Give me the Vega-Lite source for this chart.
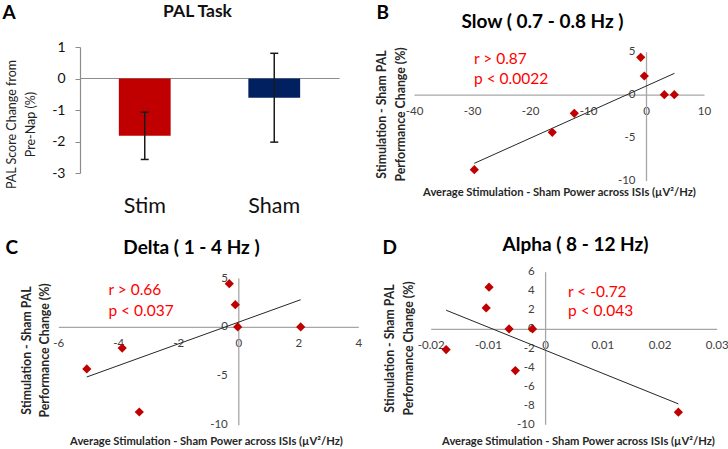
{
  "$schema": "https://vega.github.io/schema/vega-lite/v6.json",
  "width": 728,
  "height": 449,
  "autosize": "none",
  "padding": 0,
  "background": "white",
  "config": {"view": {"stroke": null}, "axis": {"grid": false}},
  "datasets": {
    "pal": [
      {"condition": "Stim", "mean": -1.82, "lo": -2.57, "hi": -1.07},
      {"condition": "Sham", "mean": -0.61, "lo": -2.02, "hi": 0.8}
    ],
    "slow": [
      {"x": -0.91, "y": 4.34}, {"x": -0.29, "y": 2.17}, {"x": 3.16, "y": 0}, {"x": 4.88, "y": 0},
      {"x": -12.36, "y": -2.18}, {"x": -16.16, "y": -4.39}, {"x": -29.6, "y": -8.74}
    ],
    "slowFit": [{"x": -29.6, "y": -8.0}, {"x": 4.91, "y": 2.48}],
    "delta": [
      {"x": -0.3, "y": 4.42}, {"x": -0.1, "y": 2.27}, {"x": -0.02, "y": 0}, {"x": 2.08, "y": 0},
      {"x": -3.87, "y": -2.16}, {"x": -5.05, "y": -4.3}, {"x": -3.3, "y": -8.7}
    ],
    "deltaFit": [{"x": -5.05, "y": -5.12}, {"x": 2.08, "y": 2.78}],
    "alpha": [
      {"x": -0.0098, "y": 4.38}, {"x": -0.0103, "y": 2.2}, {"x": -0.0063, "y": 0}, {"x": -0.0022, "y": 0},
      {"x": -0.0173, "y": -2.17}, {"x": -0.0052, "y": -4.37}, {"x": 0.0233, "y": -8.73}
    ],
    "alphaFit": [{"x": -0.0173, "y": 1.96}, {"x": 0.0233, "y": -7.86}]
  },
  "layer": [
    {
      "data": {"name": "pal"},
      "mark": {"type": "bar", "width": {"band": 0.4}},
      "encoding": {
        "x": {"field": "condition", "type": "nominal", "sort": ["Stim", "Sham"],
          "scale": {"type": "band", "domain": ["Stim", "Sham"], "range": [80, 339], "paddingInner": 0, "paddingOuter": 0},
          "axis": {"orient": "bottom", "offset": -371, "domain": true, "domainColor": "#8c8c8c", "domainWidth": 1.2,
            "ticks": false, "tickSize": 0, "labelPadding": 134, "labelBaseline": "alphabetic", "labelAngle": 0,
            "labelFont": "Lato", "labelFontSize": 21.5, "labelColor": "#111111",
            "title": "PAL Task", "titleX": 197, "titleY": -62, "titleAlign": "center", "titleBaseline": "alphabetic",
            "titleFont": "Lato", "titleFontSize": 17.5, "titleFontWeight": "bold", "titleColor": "#111111"}},
        "y": {"field": "mean", "type": "quantitative",
          "scale": {"domain": [-3, 1], "range": [173, 47], "nice": false, "zero": false},
          "axis": {"orient": "left", "offset": -80, "values": [-3, -2, -1, 0, 1], "labelExpr": "'' + datum.value",
            "domainColor": "#8c8c8c", "domainWidth": 1.2, "tickColor": "#8c8c8c", "tickSize": 5, "labelPadding": 10,
            "labelFont": "Lato", "labelFontSize": 14, "labelColor": "#111111", "labelBaseline": "middle",
            "title": ["PAL Score Change from", "\u2003\u2003\u2003\u2003Pre-Nap (%)"],
            "titleX": -69, "titleY": 124, "titleAngle": 270, "titleAlign": "center", "titleBaseline": "middle",
            "titleLineHeight": 19, "titleFont": "Lato", "titleFontSize": 12.5, "titleFontWeight": "normal", "titleColor": "#222222"}},
        "y2": {"datum": 0},
        "color": {"field": "condition", "type": "nominal",
          "scale": {"domain": ["Stim", "Sham"], "range": ["#c00000", "#002060"]}, "legend": null}
      }
    },
    {
      "data": {"name": "pal"},
      "mark": {"type": "rule", "color": "#1a1a1a", "strokeWidth": 1.5},
      "encoding": {
        "x": {"field": "condition", "type": "nominal",
          "scale": {"type": "band", "domain": ["Stim", "Sham"], "range": [80, 339], "paddingInner": 0, "paddingOuter": 0},
          "axis": null},
        "y": {"field": "lo", "type": "quantitative",
          "scale": {"domain": [-3, 1], "range": [173, 47], "nice": false, "zero": false},
          "axis": {"orient": "left", "offset": 0, "domain": false, "ticks": false, "labels": false,
            "title": "A", "titleX": 2, "titleY": 18, "titleAngle": 0, "titleAlign": "left", "titleBaseline": "alphabetic",
            "titleFont": "Lato", "titleFontSize": 19, "titleFontWeight": "bold", "titleColor": "#000000"}},
        "y2": {"field": "hi"}
      }
    },
    {
      "data": {"name": "pal"},
      "mark": {"type": "tick", "orient": "horizontal", "size": 8, "thickness": 1.5, "color": "#1a1a1a", "opacity": 1},
      "encoding": {
        "x": {"field": "condition", "type": "nominal",
          "scale": {"type": "band", "domain": ["Stim", "Sham"], "range": [80, 339], "paddingInner": 0, "paddingOuter": 0},
          "axis": null},
        "y": {"field": "lo", "type": "quantitative",
          "scale": {"domain": [-3, 1], "range": [173, 47], "nice": false, "zero": false}, "axis": null}
      }
    },
    {
      "data": {"name": "pal"},
      "mark": {"type": "tick", "orient": "horizontal", "size": 8, "thickness": 1.5, "color": "#1a1a1a", "opacity": 1},
      "encoding": {
        "x": {"field": "condition", "type": "nominal",
          "scale": {"type": "band", "domain": ["Stim", "Sham"], "range": [80, 339], "paddingInner": 0, "paddingOuter": 0},
          "axis": null},
        "y": {"field": "hi", "type": "quantitative",
          "scale": {"domain": [-3, 1], "range": [173, 47], "nice": false, "zero": false}, "axis": null}
      }
    },

    {
      "data": {"name": "slowFit"},
      "mark": {"type": "line", "color": "#262626", "strokeWidth": 1},
      "encoding": {
        "x": {"field": "x", "type": "quantitative",
          "scale": {"domain": [-40, 10], "range": [414, 704], "nice": false, "zero": false},
          "axis": {"orient": "top", "offset": 0, "domain": false, "ticks": false, "labels": false,
            "title": "Slow ( 0.7 - 0.8 Hz )", "titleX": 542, "titleY": 27, "titleAlign": "center", "titleBaseline": "alphabetic",
            "titleFont": "Lato", "titleFontSize": 19, "titleFontWeight": "bold", "titleColor": "#000000"}},
        "y": {"field": "y", "type": "quantitative",
          "scale": {"domain": [-10, 5], "range": [180.5, 51.7], "nice": false, "zero": false},
          "axis": {"orient": "left", "offset": 0, "domain": false, "ticks": false, "labels": false,
            "title": "B", "titleX": 376, "titleY": 18, "titleAngle": 0, "titleAlign": "left", "titleBaseline": "alphabetic",
            "titleFont": "Lato", "titleFontSize": 19, "titleFontWeight": "bold", "titleColor": "#000000"}}
      }
    },
    {
      "data": {"name": "slow"},
      "mark": {"type": "point", "shape": "diamond", "filled": true, "size": 85, "color": "#c00000", "opacity": 1},
      "encoding": {
        "x": {"field": "x", "type": "quantitative",
          "scale": {"domain": [-40, 10], "range": [414, 704], "nice": false, "zero": false},
          "axis": {"orient": "bottom", "offset": -354.37, "values": [-40, -30, -20, -10, 0, 10], "labelExpr": "'' + datum.value",
            "domainColor": "#a6a6a6", "domainWidth": 1.3, "ticks": false, "tickSize": 0, "labelPadding": 17,
            "labelBaseline": "middle", "labelFlush": false, "labelOverlap": false,
            "labelFont": "Lato", "labelFontSize": 11.5, "labelColor": "#404040",
            "title": "Average Stimulation - Sham Power across ISIs (µV²/Hz)", "titleX": 559, "titleY": 101,
            "titleAlign": "center", "titleBaseline": "alphabetic",
            "titleFont": "Lato", "titleFontSize": 11.2, "titleFontWeight": "bold", "titleColor": "#262626"}},
        "y": {"field": "y", "type": "quantitative",
          "scale": {"domain": [-10, 5], "range": [180.5, 51.7], "nice": false, "zero": false},
          "axis": {"orient": "left", "offset": -646, "values": [-10, -5, 0, 5], "labelExpr": "'' + datum.value",
            "domainColor": "#a6a6a6", "domainWidth": 1.3, "ticks": false, "tickSize": 0, "labelPadding": 11,
            "labelBaseline": "middle", "labelFlush": false, "labelOverlap": false,
            "labelFont": "Lato", "labelFontSize": 11.5, "labelColor": "#404040",
            "title": ["Stimulation - Sham PAL", "Performance Change (%)"], "titleX": -264.5, "titleY": 114,
            "titleAngle": 270, "titleAlign": "center", "titleBaseline": "middle", "titleLineHeight": 18.5,
            "titleFont": "Lato", "titleFontSize": 12.3, "titleFontWeight": "bold", "titleColor": "#262626"}}
      }
    },
    {
      "data": {"values": [{}]},
      "mark": {"type": "text", "align": "left", "baseline": "alphabetic", "font": "Lato", "fontSize": 15.5,
        "color": "#ff0000", "lineHeight": 20, "text": ["r > 0.87", "p < 0.0022"]},
      "encoding": {
        "x": {"datum": -29.66, "type": "quantitative",
          "scale": {"domain": [-40, 10], "range": [414, 704], "nice": false, "zero": false}, "axis": null},
        "y": {"datum": 3.53, "type": "quantitative",
          "scale": {"domain": [-10, 5], "range": [180.5, 51.7], "nice": false, "zero": false}, "axis": null}
      }
    },

    {
      "data": {"name": "deltaFit"},
      "mark": {"type": "line", "color": "#262626", "strokeWidth": 1},
      "encoding": {
        "x": {"field": "x", "type": "quantitative",
          "scale": {"domain": [-6, 4], "range": [58.3, 358.3], "nice": false, "zero": false},
          "axis": {"orient": "top", "offset": 0, "domain": false, "ticks": false, "labels": false,
            "title": "Delta ( 1 - 4 Hz )", "titleX": 191, "titleY": 253, "titleAlign": "center", "titleBaseline": "alphabetic",
            "titleFont": "Lato", "titleFontSize": 19, "titleFontWeight": "bold", "titleColor": "#000000"}},
        "y": {"field": "y", "type": "quantitative",
          "scale": {"domain": [-10, 5], "range": [424.7, 278], "nice": false, "zero": false},
          "axis": {"orient": "left", "offset": 0, "domain": false, "ticks": false, "labels": false,
            "title": "C", "titleX": 5, "titleY": 253, "titleAngle": 0, "titleAlign": "left", "titleBaseline": "alphabetic",
            "titleFont": "Lato", "titleFontSize": 19, "titleFontWeight": "bold", "titleColor": "#000000"}}
      }
    },
    {
      "data": {"name": "delta"},
      "mark": {"type": "point", "shape": "diamond", "filled": true, "size": 85, "color": "#c00000", "opacity": 1},
      "encoding": {
        "x": {"field": "x", "type": "quantitative",
          "scale": {"domain": [-6, 4], "range": [58.3, 358.3], "nice": false, "zero": false},
          "axis": {"orient": "bottom", "offset": -122.1, "values": [-6, -4, -2, 0, 2, 4], "labelExpr": "'' + datum.value",
            "domainColor": "#a6a6a6", "domainWidth": 1.3, "ticks": false, "tickSize": 0, "labelPadding": 17,
            "labelBaseline": "middle", "labelFlush": false, "labelOverlap": false,
            "labelFont": "Lato", "labelFontSize": 11.5, "labelColor": "#404040",
            "title": "Average Stimulation - Sham Power across ISIs (µV²/Hz)", "titleX": 206, "titleY": 117.1,
            "titleAlign": "center", "titleBaseline": "alphabetic",
            "titleFont": "Lato", "titleFontSize": 11.2, "titleFontWeight": "bold", "titleColor": "#262626"}},
        "y": {"field": "y", "type": "quantitative",
          "scale": {"domain": [-10, 5], "range": [424.7, 278], "nice": false, "zero": false},
          "axis": {"orient": "left", "offset": -238.3, "values": [-10, -5, 0, 5], "labelExpr": "'' + datum.value",
            "domainColor": "#a6a6a6", "domainWidth": 1.3, "ticks": false, "tickSize": 0, "labelPadding": 11,
            "labelBaseline": "middle", "labelFlush": false, "labelOverlap": false,
            "labelFont": "Lato", "labelFontSize": 11.5, "labelColor": "#404040",
            "title": ["Stimulation - Sham PAL", "Performance Change (%)"], "titleX": -212.3, "titleY": 350,
            "titleAngle": 270, "titleAlign": "center", "titleBaseline": "middle", "titleLineHeight": 18.5,
            "titleFont": "Lato", "titleFontSize": 12.3, "titleFontWeight": "bold", "titleColor": "#262626"}}
      }
    },
    {
      "data": {"values": [{}]},
      "mark": {"type": "text", "align": "left", "baseline": "alphabetic", "font": "Lato", "fontSize": 15.5,
        "color": "#ff0000", "lineHeight": 20.4, "text": ["r > 0.66", "p < 0.037"]},
      "encoding": {
        "x": {"datum": -4.33, "type": "quantitative",
          "scale": {"domain": [-6, 4], "range": [58.3, 358.3], "nice": false, "zero": false}, "axis": null},
        "y": {"datum": 3.23, "type": "quantitative",
          "scale": {"domain": [-10, 5], "range": [424.7, 278], "nice": false, "zero": false}, "axis": null}
      }
    },

    {
      "data": {"name": "alphaFit"},
      "mark": {"type": "line", "color": "#262626", "strokeWidth": 1},
      "encoding": {
        "x": {"field": "x", "type": "quantitative",
          "scale": {"domain": [-0.02, 0.03], "range": [430.7, 716.7], "nice": false, "zero": false},
          "axis": {"orient": "top", "offset": 0, "domain": false, "ticks": false, "labels": false,
            "title": "Alpha ( 8 - 12 Hz)", "titleX": 575, "titleY": 250, "titleAlign": "center", "titleBaseline": "alphabetic",
            "titleFont": "Lato", "titleFontSize": 19, "titleFontWeight": "bold", "titleColor": "#000000"}},
        "y": {"field": "y", "type": "quantitative",
          "scale": {"domain": [-10, 6], "range": [424.3, 271.7], "nice": false, "zero": false},
          "axis": {"orient": "left", "offset": 0, "domain": false, "ticks": false, "labels": false,
            "title": "D", "titleX": 382, "titleY": 253, "titleAngle": 0, "titleAlign": "left", "titleBaseline": "alphabetic",
            "titleFont": "Lato", "titleFontSize": 19, "titleFontWeight": "bold", "titleColor": "#000000"}}
      }
    },
    {
      "data": {"name": "alpha"},
      "mark": {"type": "point", "shape": "diamond", "filled": true, "size": 85, "color": "#c00000", "opacity": 1},
      "encoding": {
        "x": {"field": "x", "type": "quantitative",
          "scale": {"domain": [-0.02, 0.03], "range": [430.7, 716.7], "nice": false, "zero": false},
          "axis": {"orient": "bottom", "offset": -120.1, "values": [-0.02, -0.01, 0, 0.01, 0.02, 0.03], "labelExpr": "'' + datum.value",
            "domainColor": "#a6a6a6", "domainWidth": 1.3, "ticks": false, "tickSize": 0, "labelPadding": 17,
            "labelBaseline": "middle", "labelFlush": false, "labelOverlap": false,
            "labelFont": "Lato", "labelFontSize": 11.5, "labelColor": "#404040",
            "title": "Average Stimulation - Sham Power across ISIs (µV²/Hz)", "titleX": 578, "titleY": 115.1,
            "titleAlign": "center", "titleBaseline": "alphabetic",
            "titleFont": "Lato", "titleFontSize": 11.2, "titleFontWeight": "bold", "titleColor": "#262626"}},
        "y": {"field": "y", "type": "quantitative",
          "scale": {"domain": [-10, 6], "range": [424.3, 271.7], "nice": false, "zero": false},
          "axis": {"orient": "left", "offset": -545.1, "values": [-10, -8, -6, -4, -2, 0, 2, 4, 6], "labelExpr": "'' + datum.value",
            "domainColor": "#a6a6a6", "domainWidth": 1.3, "ticks": false, "tickSize": 0, "labelPadding": 11,
            "labelBaseline": "middle", "labelFlush": false, "labelOverlap": false,
            "labelFont": "Lato", "labelFontSize": 11.5, "labelColor": "#404040",
            "title": ["Stimulation - Sham PAL", "Performance Change (%)"], "titleX": -155.1, "titleY": 348,
            "titleAngle": 270, "titleAlign": "center", "titleBaseline": "middle", "titleLineHeight": 18.5,
            "titleFont": "Lato", "titleFontSize": 12.3, "titleFontWeight": "bold", "titleColor": "#262626"}}
      }
    },
    {
      "data": {"values": [{}]},
      "mark": {"type": "text", "align": "left", "baseline": "alphabetic", "font": "Lato", "fontSize": 15.5,
        "color": "#ff0000", "lineHeight": 19.3, "text": ["r < -0.72", "p < 0.043"]},
      "encoding": {
        "x": {"datum": 0.004, "type": "quantitative",
          "scale": {"domain": [-0.02, 0.03], "range": [430.7, 716.7], "nice": false, "zero": false}, "axis": null},
        "y": {"datum": 3.375, "type": "quantitative",
          "scale": {"domain": [-10, 6], "range": [424.3, 271.7], "nice": false, "zero": false}, "axis": null}
      }
    }
  ],
  "resolve": {
    "scale": {"x": "independent", "y": "independent", "color": "independent"},
    "axis": {"x": "independent", "y": "independent"}
  }
}
